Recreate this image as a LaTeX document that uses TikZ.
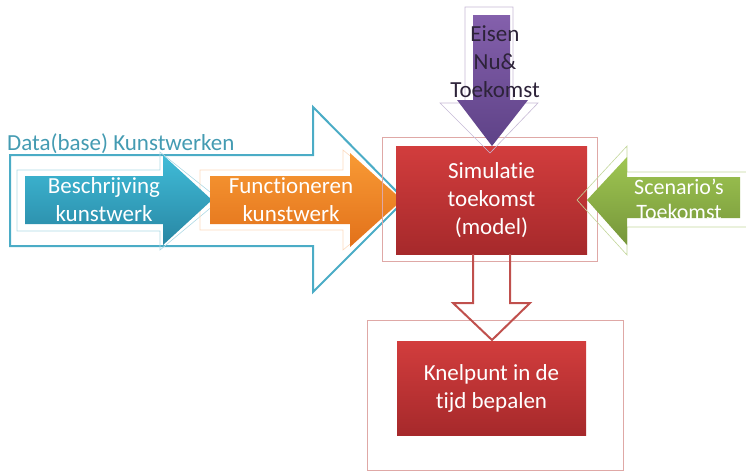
\documentclass[tikz,border=0pt]{standalone}
\usepackage{fontspec}
\setmainfont[Ligatures={NoCommon}]{Carlito}
\usetikzlibrary{positioning}
\definecolor{cBlue}{HTML}{4BACC6}
\definecolor{cBlueTop}{HTML}{40BCD8}
\definecolor{cBlueBot}{HTML}{2886A3}
\definecolor{cOrange}{HTML}{F79646}
\definecolor{cOrangeTop}{HTML}{F89A35}
\definecolor{cOrangeBot}{HTML}{E2711A}
\definecolor{cRed}{HTML}{C0504D}
\definecolor{cRedTop}{HTML}{D23D3D}
\definecolor{cRedBot}{HTML}{A6292B}
\definecolor{cPurple}{HTML}{8064A2}
\definecolor{cPurpleTop}{HTML}{8460AC}
\definecolor{cPurpleBot}{HTML}{5E4287}
\definecolor{cGreen}{HTML}{9BBB59}
\definecolor{cGreenTop}{HTML}{9FC652}
\definecolor{cGreenBot}{HTML}{76963A}

\begin{document}
\begin{tikzpicture}[
  x=1pt, y=-1pt,
  font=\fontsize{23}{28}\selectfont,
  ghost/.style={line width=0.6pt, line join=miter},
  hollow/.style={line width=2pt, line join=miter},
  box/.style={text=white, align=center, inner sep=0pt,
              top color=cRedTop, bottom color=cRedBot},
  lbl/.style={text=white, align=center, inner sep=0pt},
]
\useasboundingbox (0,0) rectangle (746,472);

% ====================== Data(base) Kunstwerken =========================
\draw[hollow, draw=cBlue] (10,155) -- (313,155) -- (313,107) -- (405,200)
  -- (313,292) -- (313,246) -- (10,246) -- cycle;
\node[text=cBlue!90!black, anchor=west, inner sep=0pt] (dbase) at (7,144)
  {Data(base) Kunstwerken};

% faint outlines behind the two small arrows
\draw[ghost, draw=cBlue!45] (17,170) -- (160,170) -- (160,152) -- (220,200)
  -- (160,250) -- (160,231) -- (17,231) -- cycle;
\draw[ghost, draw=cOrange!35] (200,170) -- (343,170) -- (343,150) -- (403,200)
  -- (343,250) -- (343,230) -- (200,230) -- cycle;

% ====================== Beschrijving / Functioneren ====================
\path[top color=cBlueTop, bottom color=cBlueBot]
  (25,176) -- (163,176) -- (163,155) -- (212,200) -- (163,245) -- (163,224)
  -- (25,224) -- cycle;
\node[lbl] (beschr) at (104,200) {Beschrijving\\kunstwerk};

\path[top color=cOrangeTop, bottom color=cOrangeBot]
  (210,176) -- (350,176) -- (350,153) -- (402,200) -- (350,247) -- (350,224)
  -- (210,224) -- cycle;
\node[lbl] (funct) at (291,200) {Functioneren\\kunstwerk};

% ====================== Simulatie toekomst =============================
\draw[ghost, draw=cRed!50] (382,137) rectangle (597,261);
\node[box, minimum width=191pt, minimum height=108pt] (sim) at (491.5,200)
  {Simulatie\\toekomst\\(model)};

% ====================== Eisen (top) ====================================
\draw[ghost, draw=cPurple!45] (465,7) -- (513,7) -- (513,103) -- (538,103)
  -- (490,153) -- (440,103) -- (465,103) -- cycle;
\path[top color=cPurpleTop, bottom color=cPurpleBot]
  (473,15) -- (510,15) -- (510,100) -- (528,100) -- (492,146) -- (457,100)
  -- (473,100) -- cycle;
\node[text=black!65!cPurple, align=center, inner sep=0pt] (eisen) at (495,62)
  {Eisen\\Nu\&\\Toekomst};

% ====================== Scenario's (right) =============================
\draw[ghost, draw=cGreen!60] (746,172) -- (627,172) -- (627,146) -- (577,200)
  -- (627,255) -- (627,227) -- (746,227);
\path[top color=cGreenTop, bottom color=cGreenBot]
  (740,177) -- (627,177) -- (627,157) -- (587,200) -- (627,245) -- (627,218)
  -- (740,218) -- cycle;
\node[lbl, font=\fontsize{22}{25}\selectfont] (scen) at (679,199)
  {Scenario’s\\Toekomst};

% ====================== Knelpunt (bottom) ==============================
\draw[ghost, draw=cRed!50] (367,320) rectangle (623,470);
\node[box, minimum width=189pt, minimum height=94pt] (knel) at (491.5,388)
  {Knelpunt in de\\tijd bepalen};
\draw[hollow, draw=cRed] (sim.south -| 473,0) -- (473,303) -- (453,303)
  -- (492,340) -- (530,303) -- (510,303) -- (sim.south -| 510,0);

\end{tikzpicture}
\end{document}
